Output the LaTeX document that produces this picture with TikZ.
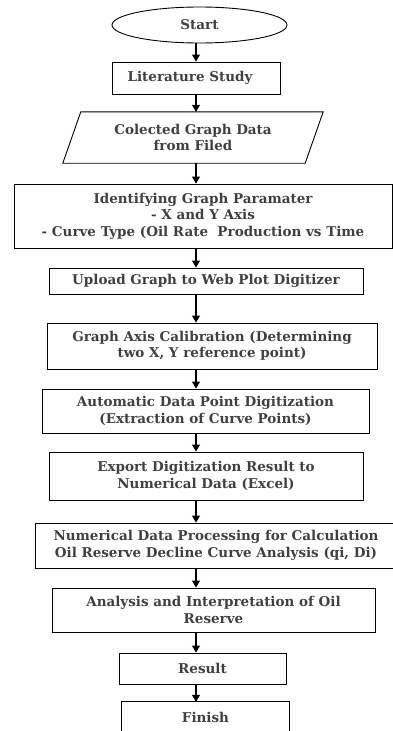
\documentclass[tikz,border=0pt]{standalone}
\usepackage{fontspec}
\setmainfont{DejaVu Serif}
\usetikzlibrary{shapes.geometric,arrows.meta,calc}
\begin{document}
\begin{tikzpicture}[x=1pt,y=-1pt,
  every node/.style={font=\fontsize{13.5}{16.5}\selectfont\bfseries, text=black!75, align=center, inner sep=0pt},
  procbox/.style={draw, line width=0.9pt, rectangle},
  arr/.style={line width=1.1pt, -{Triangle[length=7pt,width=8pt]}}]
\useasboundingbox (0,0) rectangle (393,731);
\fill[white] (0,0) rectangle (393,731);
\coordinate (ax) at (196,0);
\node[draw, line width=0.9pt, ellipse, minimum width=175, minimum height=36] (start) at (199.5,25) {Start};
\node[procbox, minimum width=168, minimum height=32] (lit) at (196,78) {Literature Study\hspace*{12pt}};
\node[minimum width=260, minimum height=51] (data) at (193,137.5) {Colected Graph Data\\from Filed};
\draw[line width=0.9pt] ($(data.north west)+(18,0)$) -- (data.north east) -- ($(data.south east)-(18,0)$) -- (data.south west) -- cycle;
\node[procbox, minimum width=378, minimum height=64] (ident) at (203,216) {Identifying Graph Paramater\\- X and Y Axis\\- Curve Type (Oil Rate\ \ Production vs Time};
\node[procbox, minimum width=314, minimum height=26] (upload) at (206,281) {Upload Graph to Web Plot Digitizer};
\node[procbox, minimum width=330, minimum height=46] (axis) at (212,346) {Graph Axis Calibration (Determining\\two X, Y reference point)};
\node[procbox, minimum width=327, minimum height=44] (auto) at (205.5,411) {Automatic Data Point Digitization\\(Extraction of Curve Points)};
\node[procbox, minimum width=314, minimum height=48] (export) at (206,476) {Export Digitization Result to\\Numerical Data (Excel)};
\node[procbox, minimum width=362, minimum height=45] (numer) at (216,545.5) {Numerical Data Processing for Calculation\\Oil Reserve Decline Curve Analysis (qi, Di)};
\node[procbox, minimum width=323, minimum height=44] (anal) at (213.5,610) {Analysis and Interpretation of Oil\\Reserve};
\node[procbox, minimum width=167, minimum height=31] (result) at (202.5,668.5) {Result};
\node[minimum width=167, minimum height=30] (fin) at (205.5,717) {Finish};
\draw[line width=0.9pt] ($(fin.north west)+(0,40)$) -- (fin.north west) -- (fin.north east) -- ($(fin.north east)+(0,40)$);
\draw[arr] (start.south -| ax) -- (lit.north -| ax);
\draw[arr] (lit.south -| ax) -- (data.north -| ax);
\draw[arr] (data.south -| ax) -- (ident.north -| ax);
\draw[arr] (ident.south -| ax) -- (upload.north -| ax);
\draw[arr] (upload.south -| ax) -- (axis.north -| ax);
\draw[arr] (axis.south -| ax) -- (auto.north -| ax);
\draw[arr] (auto.south -| ax) -- (export.north -| ax);
\draw[arr] (export.south -| ax) -- (numer.north -| ax);
\draw[arr] (numer.south -| ax) -- (anal.north -| ax);
\draw[arr] (anal.south -| ax) -- (result.north -| ax);
\draw[arr] (result.south -| ax) -- (fin.north -| ax);
\end{tikzpicture}
\end{document}
